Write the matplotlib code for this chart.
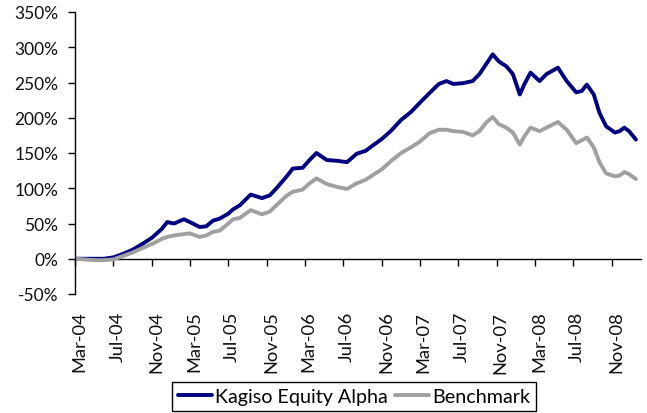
import matplotlib
matplotlib.use("Agg")
import matplotlib.pyplot as plt
import matplotlib.dates as mdates
import matplotlib.transforms as mtransforms
import pandas as pd

plt.rcParams['font.family'] = ['Lato', 'DejaVu Sans']

# cumulative return (%)
dates = pd.to_datetime([
    '2004-03-01', '2004-04-01', '2004-05-01', '2004-06-01', '2004-07-01',
    '2004-08-01', '2004-09-01', '2004-10-01', '2004-11-01', '2004-12-01',
    '2004-12-19', '2005-01-10', '2005-02-10', '2005-03-01', '2005-04-01',
    '2005-04-22', '2005-05-13', '2005-06-04', '2005-07-01', '2005-07-16',
    '2005-08-07', '2005-09-10', '2005-10-16', '2005-11-10', '2005-12-01',
    '2006-01-01', '2006-01-22', '2006-02-22', '2006-03-16', '2006-04-07',
    '2006-05-10', '2006-06-10', '2006-07-13', '2006-08-13', '2006-09-10',
    '2006-10-01', '2006-11-01', '2006-12-01', '2007-01-01', '2007-02-01',
    '2007-03-01', '2007-04-01', '2007-05-01', '2007-05-25', '2007-06-16',
    '2007-07-16', '2007-08-16', '2007-09-07', '2007-09-28', '2007-10-19',
    '2007-11-07', '2007-12-01', '2007-12-22', '2008-01-13', '2008-01-28',
    '2008-02-16', '2008-03-16', '2008-04-07', '2008-05-13', '2008-06-10',
    '2008-07-10', '2008-07-28', '2008-08-13', '2008-09-04', '2008-09-22',
    '2008-10-13', '2008-11-10', '2008-11-25', '2008-12-10', '2008-12-25',
    '2009-01-16',
])

kagiso = [
    0, 0, 0, 0, 2,
    7, 13, 21, 30, 42,
    52, 50, 56, 52, 45,
    46, 54, 57, 64, 70,
    76, 91, 86, 90, 100,
    116, 128, 129, 140, 150,
    140, 139, 137, 149, 153,
    160, 170, 182, 197, 208,
    221, 235, 248, 252, 248,
    249, 252, 262, 276, 290,
    280, 273, 262, 233, 248,
    264, 252, 262, 271, 252,
    236, 238, 247, 233, 207,
    188, 179, 181, 186, 181,
    169,
]

benchmark = [
    0, -1, -2, -2, -1,
    4, 9, 15, 21, 28,
    31, 33, 35, 36, 31,
    33, 38, 40, 50, 56,
    58, 69, 63, 67, 76,
    89, 95, 98, 107, 114,
    106, 102, 99, 107, 112,
    118, 127, 139, 150, 158,
    166, 178, 183, 183, 181,
    180, 175, 181, 193, 201,
    191, 186, 179, 162, 174,
    186, 181, 186, 194, 183,
    164, 168, 172, 158, 137,
    121, 117, 118, 123, 120,
    113,
]

tick_dates = pd.date_range('2004-03-01', '2008-11-01', freq='4MS')
tick_labels = [d.strftime('%b-%y') for d in tick_dates]
y_ticks = list(range(-50, 351, 50))

fig = plt.figure(figsize=(6.47, 4.14), dpi=100)
ax = fig.add_axes([75 / 647, 1 - 295 / 414, 566 / 647, 282 / 414])

ax.plot(dates, kagiso, color='#000080', lw=2.8, label='Kagiso Equity Alpha',
        solid_joinstyle='round', solid_capstyle='round')
ax.plot(dates, benchmark, color='#a0a0a0', lw=2.8, label='Benchmark',
        solid_joinstyle='round', solid_capstyle='round')

ax.set_xlim(pd.Timestamp('2004-03-01'), pd.Timestamp('2009-02-01'))
ax.set_ylim(-50, 350)
ax.set_yticks(y_ticks)
ax.set_yticklabels([f'{v}%' for v in y_ticks])

for side in ['top', 'right', 'bottom']:
    ax.spines[side].set_visible(False)
ax.spines['left'].set_linewidth(1.0)
ax.tick_params(axis='y', direction='out', length=5, width=1, pad=7,
               labelsize=12.5, labelcolor='#111111')

# labels sit at the bottom, tick marks on the 0% line
ax.set_xticks(tick_dates)
ax.set_xticklabels(tick_labels, rotation=90)
ax.tick_params(axis='x', length=0, pad=12, labelsize=13.2,
               labelcolor='#111111')
shift = mtransforms.ScaledTranslation(4 / 100, 0, fig.dpi_scale_trans)
for lab in ax.get_xticklabels():
    lab.set_transform(lab.get_transform() + shift)

sec = ax.secondary_xaxis(0, transform=ax.transData)
sec.set_xticks(mdates.date2num(tick_dates))
sec.tick_params(direction='out', length=5, width=1, labelbottom=False)
sec.spines['bottom'].set_linewidth(1.0)

leg = fig.legend(loc='upper center', bbox_to_anchor=(354 / 647, 1 - 383 / 414),
                 ncol=2, fontsize=14.2, frameon=True, fancybox=False,
                 edgecolor='black', framealpha=1, borderaxespad=0,
                 handlelength=1.7, handletextpad=0.15, columnspacing=0.4,
                 borderpad=0.3)
leg.get_frame().set_linewidth(1.0)

fig.savefig('out.png', dpi=100)
